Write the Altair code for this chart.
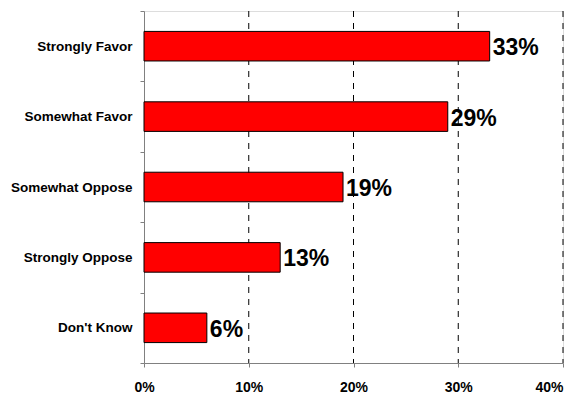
import altair as alt
import pandas as pd

categories = ["Strongly Favor", "Somewhat Favor", "Somewhat Oppose", "Strongly Oppose", "Don't Know"]
values = [33, 29, 19, 13, 6]
labels = ["33%", "29%", "19%", "13%", "6%"]
grid_values = [10, 20, 30, 40]
tick_values = [0, 10, 20, 30, 40]

df = pd.DataFrame({"cat": categories, "val": values, "lab": labels})

FONT = "Liberation Sans"

x_scale = alt.Scale(domain=[0, 40], nice=False)
x_axis = alt.Axis(values=tick_values, labelExpr="datum.value + '%'",
                  labelFont=FONT, labelFontWeight="bold", labelFontSize=14,
                  labelColor="black", domainColor="#808080", tickColor="#808080",
                  tickSize=4, labelPadding=13, labelFlush=False,
                  labelAlign=alt.expr("datum.value == 40 ? 'right' : 'center'"),
                  grid=False)

y_enc = alt.Y("cat:N", sort=categories, title=None,
              scale=alt.Scale(paddingInner=0, paddingOuter=0),
              axis=alt.Axis(labelFont=FONT, labelFontWeight="bold", labelFontSize=13.5,
                            labelColor="black", domainColor="#808080", tickColor="#808080",
                            tickSize=4, tickBand="extent", labelPadding=8, grid=False))

grid = alt.Chart(pd.DataFrame({"g": grid_values})).mark_rule(
    color="black", strokeDash=[6, 6], strokeWidth=1
).encode(x=alt.X("g:Q", scale=x_scale, axis=x_axis, title=None))

bars = alt.Chart(df).mark_bar(
    color="#FF0000", stroke="black", strokeWidth=1, height=alt.RelativeBandSize(0.42)
).encode(x=alt.X("val:Q", scale=x_scale, axis=x_axis, title=None), y=y_enc)

text = alt.Chart(df).mark_text(
    align="left", baseline="middle", dx=3, dy=2, font=FONT, fontWeight="bold",
    fontSize=23, color="black"
).encode(x=alt.X("val:Q", scale=x_scale, axis=x_axis, title=None),
         y=alt.Y("cat:N", sort=categories), text="lab:N")

chart = alt.layer(grid, bars, text).properties(
    width=419, height=352,
    autosize=alt.AutoSizeParams(type="none"),
    padding={"left": 136, "top": 3, "right": 3, "bottom": 34},
).configure_view(stroke=None).configure(background="white")

chart.save("out.html", embed_options={"renderer": "svg", "actions": False})
